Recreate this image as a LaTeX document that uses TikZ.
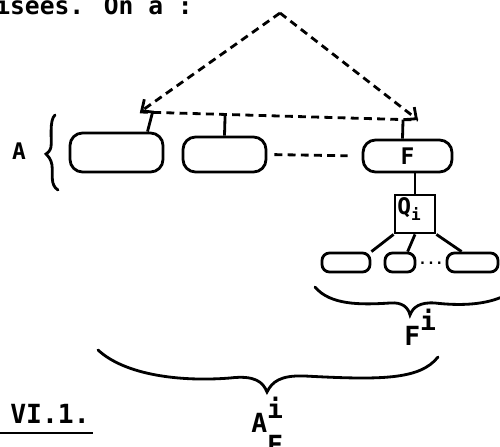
\documentclass[tikz,border=0pt]{standalone}
\usepackage{fontspec}
\setmainfont{DejaVu Sans Mono}
\usetikzlibrary{positioning,arrows.meta,calc}

\begin{document}
\begin{tikzpicture}
		[x=0.02cm,y=-0.02cm,
		block/.style ={rectangle, draw=black, line width=1.6pt, rounded corners=0.25cm, inner sep=0pt},
		leaf/.style ={rectangle, draw=black, line width=1.6pt, rounded corners=0.15cm, inner sep=0pt, minimum height=0.38cm},
		qbox/.style ={rectangle, draw=black, line width=1.6pt, inner sep=0pt, minimum width=0.8cm, minimum height=0.76cm},
		link/.style ={draw, line width=1.6pt},
		dashline/.style ={draw, line width=1.6pt, dash pattern=on 4.5pt off 3pt},
		brace/.style ={draw, line width=1.6pt, line cap=round},
		txt/.style ={font=\fontsize{13}{15}\selectfont\bfseries, inner sep=0pt},
		big/.style ={font=\fontsize{15}{17}\selectfont\bfseries, inner sep=0pt}]
		\useasboundingbox (0,0) rectangle (500,446);
		\draw (-5,15) node[big, anchor=base west, font=\fontsize{14}{16}\selectfont\bfseries] (intro) {isées. On a :};
		% the level A
		\draw (116.5,152.5) node[block, minimum width=1.86cm, minimum height=0.78cm] (A1) {};
		\draw (224.5,154.5) node[block, minimum width=1.66cm, minimum height=0.70cm] (A2) {};
		\draw (407.5,156) node[block, txt, minimum width=1.78cm, minimum height=0.64cm] (F) {F};
		\draw (19,151) node[txt] (Alab) {A};
		\draw[brace] (55,115) .. controls (49,120) and (52,140) .. (51,147) .. controls (50,151) and (48,153) .. (46,154)
			.. controls (48,156) and (51,159) .. (52,165) .. controls (53,175) and (50,185) .. (58,190);
		% dashed triangle
		\coordinate (top) at (280,13);
		\coordinate (L) at (140,112);
		\coordinate (R) at (418,120);
		\draw[dashline, -{Straight Barb[length=5pt,width=9pt]}] (top) -- (L);
		\draw[dashline, -{Straight Barb[length=5pt,width=9pt]}] (top) -- (R);
		\draw[dashline] (L) -- (R);
		\draw[link] (A1.34) -- ($(L)!0.045!(R)$);
		\draw[link] (A2.north) -- ($(L)!(A2.north)!(R)$);
		\draw[link] ($(F.north)+(-5,0)$) -- ($(L)!($(F.north)+(-5,0)$)!(R)$);
		\draw[dashline, shorten <=4pt, shorten >=8pt] (A2.east) -- (F.west);
		% below F
		\draw (415,214) node[qbox, label={[txt, anchor=north west, inner sep=2pt]north west:Q\textsubscript{i}}] (Q) {};
		\draw (346,262.5) node[leaf, minimum width=0.96cm] (C1) {};
		\draw (400,262.5) node[leaf, minimum width=0.6cm] (C2) {};
		\draw (472.5,262.5) node[leaf, minimum width=1.02cm] (C3) {};
		\draw (431,263) node[inner sep=0pt, font=\fontsize{8}{9}\selectfont\bfseries] (dots) {...};
		\draw[link] (Q.north) -- (Q.north |- F.south);
		\draw[link] (Q.south west) -- (C1.north east);
		\draw[link] (Q.south) -- (C2.55);
		\draw[link] (Q.south east) -- (C3.135);
		% braces below
		\draw[brace] (315,287) .. controls (330,305) and (360,305) .. (390,303) .. controls (402,302) and (408,307) .. (410,315)
			.. controls (413,307) and (420,302) .. (435,303) .. controls (470,307) and (490,302) .. (502,297);
		\draw (404,345) node[big, anchor=base west] (Fi) {F\raisebox{0.3cm}{i}};
		\draw[brace] (98,350) .. controls (125,375) and (180,382) .. (230,378) .. controls (255,375) and (263,382) .. (267,392)
			.. controls (272,382) and (280,375) .. (305,376) .. controls (380,380) and (420,380) .. (438,357);
		\draw (251,432) node[big, anchor=base west] (AFi) {A\rlap{\raisebox{0.28cm}{i}}\raisebox{-0.45cm}{F}};
		\draw (10,423) node[big, anchor=base west] (fig) {VI.1.};
		\draw[line width=1.2pt] ($(fig.base west)+(-10,10)$) -- ($(fig.base east)+(3,10)$);
	\end{tikzpicture}
\end{document}
